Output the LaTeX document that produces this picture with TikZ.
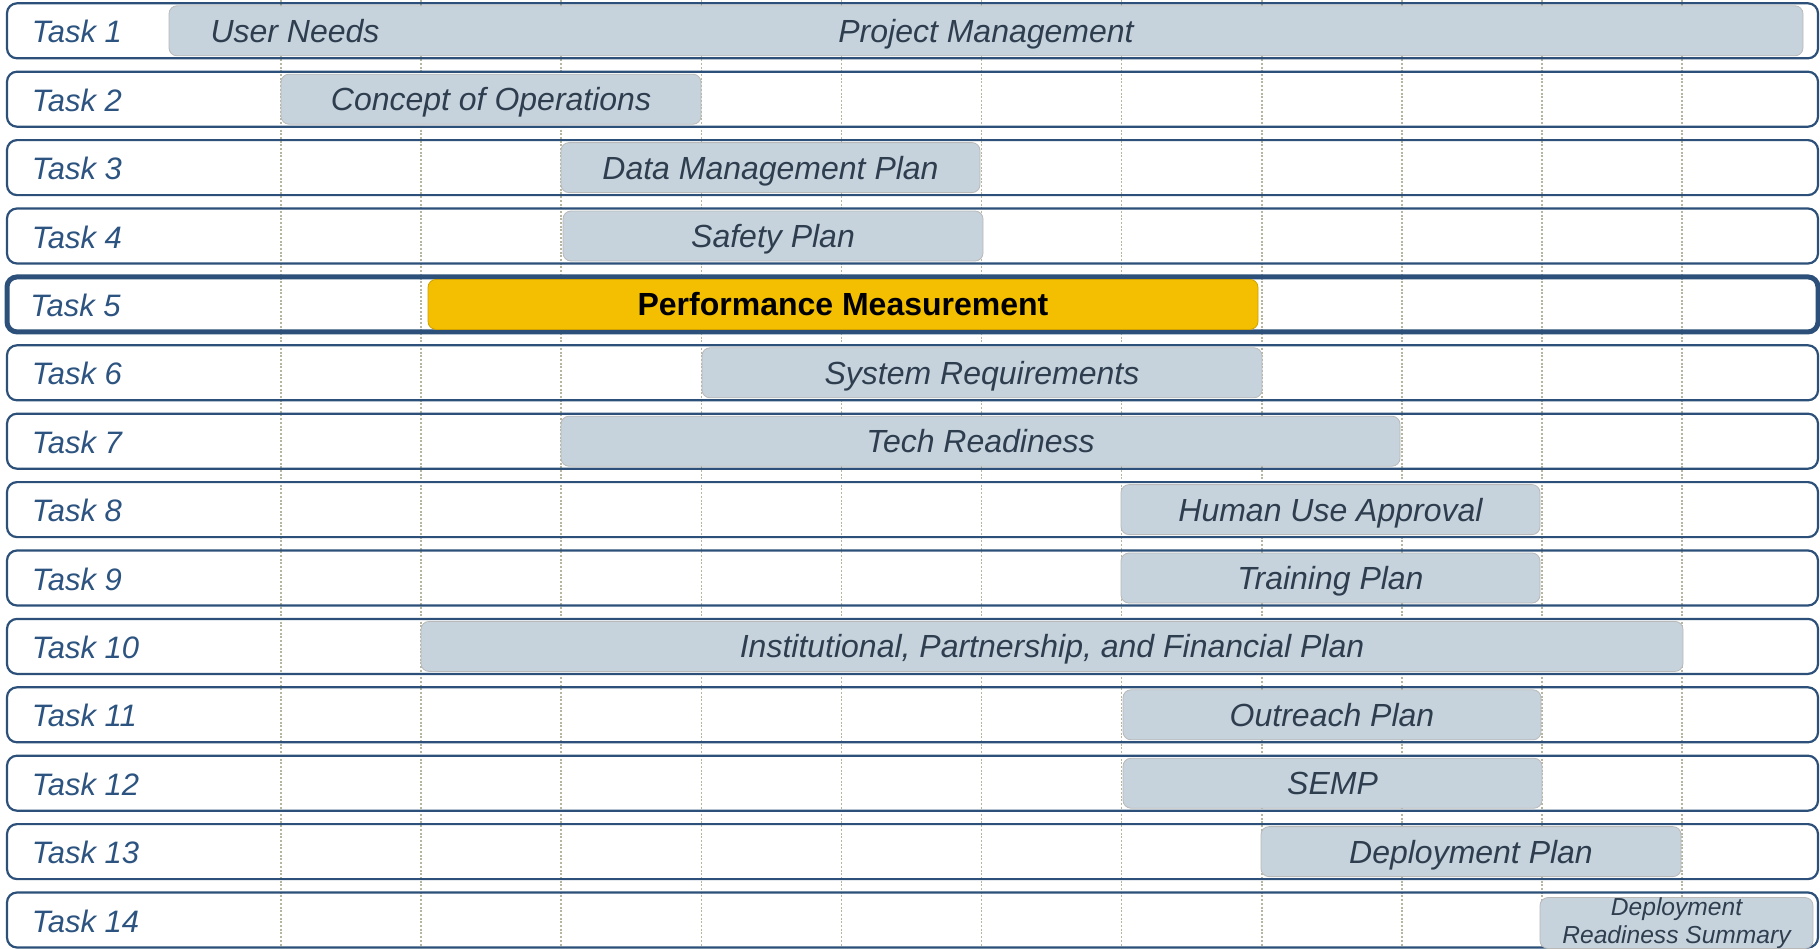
\documentclass[tikz,border=0pt]{standalone}
\usepackage{fontspec}
\setmainfont{Liberation Sans}
\usetikzlibrary{scopes}
\definecolor{framec}{HTML}{2C5079}
\definecolor{labelc}{HTML}{2D5480}
\definecolor{barc}{HTML}{C6D3DD}
\definecolor{bartext}{HTML}{2F3E4F}
\definecolor{gridc}{HTML}{B6B6A0}
\definecolor{gold}{HTML}{F3BF00}
% bar from x1 to x2 (pixels) in a given row
\newcommand\ganttbar[6][]{%
  \node[bar,#1,minimum width={(#5-#4)*0.5pt}] (#2) at ({(#4+#5)/2},{30.8+(#3-1)*68.4}) {#6};}
\begin{document}
\begin{tikzpicture}[x=0.5pt,y=-0.5pt,
    frame/.style={draw=framec,rounded corners=5pt,inner sep=0pt,minimum width=905.5pt,minimum height=27.5pt},
    tasklabel/.style={anchor=west,inner sep=0pt,text height=11.1pt,text depth=0pt,text=labelc,
        font=\fontsize{15.5}{18}\selectfont\itshape},
    bar/.style={draw=gray!55,line width=0.4pt,fill=barc,rounded corners=4pt,inner sep=0pt,minimum height=25pt,
        text height=11.5pt,text depth=0pt,text=bartext,font=\fontsize{16}{19}\selectfont\itshape},
    hot/.style={fill=gold,draw=gold!85!black,text=black,font=\fontsize{16}{19}\selectfont\bfseries},
    gridline/.style={draw=gridc,line width=0.8pt,dash pattern=on 1pt off 0.85pt},
]
	\clip (0,0) rectangle (1820,948);
	\fill[white] (0,0) rectangle (1820,948);
	{[gridline]
	\foreach \i in {0,...,10}
		\draw ({281+140.1*\i},0) -- ({281+140.1*\i},948); % month lines
	}
	% task rows
	\foreach \k in {1,...,14}{
		\pgfmathsetmacro\lw{\k==5 ? 2.5 : 1.1}
		\node[frame,line width=\lw pt] (row\k) at (912.5,{30.8+(\k-1)*68.4}) {};
		\node[tasklabel] (task\k) at ([xshift=12.75pt,yshift=-0.5pt]row\k.west) {Task \k};
	}
	% bars
	\ganttbar{pm}{1}{169}{1803}{Project Management}
	\node[inner sep=0pt,text height=11.5pt,text depth=0pt,text=bartext,font=\fontsize{16}{19}\selectfont\itshape] (needs) at (295,30.8) {User Needs};
	\ganttbar{conops}{2}{281}{701}{Concept of Operations}
	\ganttbar{dmp}{3}{561}{980}{Data Management Plan}
	\ganttbar{safety}{4}{563}{983}{Safety Plan}
	\ganttbar[hot]{perf}{5}{428}{1258}{Performance Measurement}
	\ganttbar{sysreq}{6}{702}{1262}{System Requirements}
	\ganttbar{tech}{7}{561}{1400}{Tech Readiness}
	\ganttbar{human}{8}{1121}{1540}{Human Use Approval}
	\ganttbar{training}{9}{1121}{1540}{Training Plan}
	\ganttbar{ipf}{10}{421}{1683}{Institutional, Partnership, and Financial Plan}
	\ganttbar{outreach}{11}{1123}{1541}{Outreach Plan}
	\ganttbar{semp}{12}{1123}{1542}{SEMP}
	\ganttbar{deploy}{13}{1261}{1681}{Deployment Plan}
	\ganttbar[align=center,text height=,text depth=,yshift=-1.5pt,font=\fontsize{12.3}{14}\selectfont\itshape]{drs}{14}{1540}{1813}{Deployment\\Readiness Summary}
\end{tikzpicture}
\end{document}
